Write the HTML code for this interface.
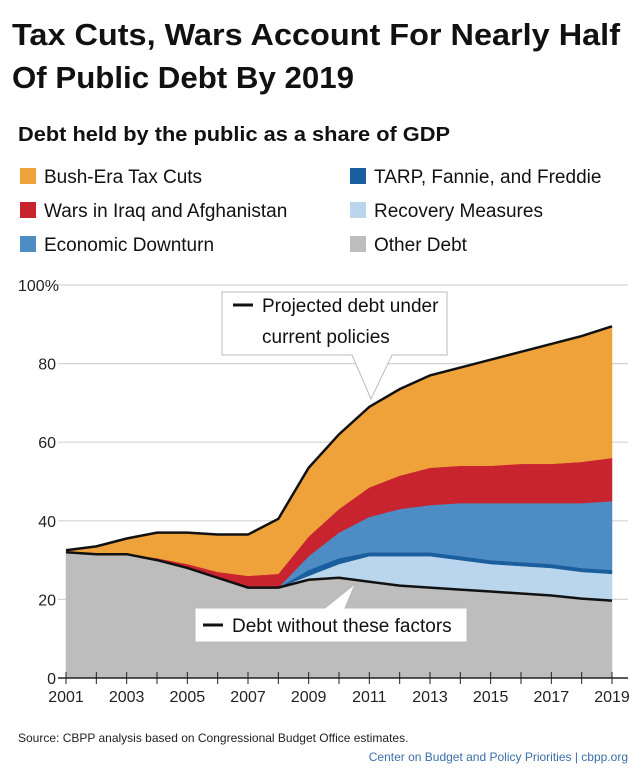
<!DOCTYPE html>
<html><head><meta charset="utf-8"><style>
html,body{margin:0;padding:0;background:#fff}
svg{display:block;font-family:"Liberation Sans",sans-serif}
</style></head><body>
<svg id="chart" width="640" height="769" viewBox="0 0 640 769">
<rect width="640" height="769" fill="#fff"/>
<text x="12" y="45" font-size="31" font-weight="bold" fill="#111" textLength="608" lengthAdjust="spacingAndGlyphs">Tax Cuts, Wars Account For Nearly Half</text>
<text x="12" y="88" font-size="31" font-weight="bold" fill="#111" textLength="342" lengthAdjust="spacingAndGlyphs">Of Public Debt By 2019</text>
<text x="18" y="141" font-size="20" font-weight="bold" fill="#111" textLength="432" lengthAdjust="spacingAndGlyphs">Debt held by the public as a share of GDP</text>
<g id="legend"></g>
<g id="grid"></g>
<g id="areas"></g>
<g id="axes"></g>
<g id="notes"></g>
<text x="18" y="742" font-size="12" fill="#222">Source:  CBPP analysis based on Congressional Budget Office estimates.</text>
<text x="628" y="761" font-size="12" fill="#3a6fa8" text-anchor="end">Center on Budget and Policy Priorities | cbpp.org</text>
</svg>
<script>
const years=[2001,2002,2003,2004,2005,2006,2007,2008,2009,2010,2011,2012,2013,2014,2015,2016,2017,2018,2019];
const otherDebt=[32,31.5,31.5,30,28,25.5,23,23,25,25.5,24.5,23.5,23,22.5,22,21.5,21,20.2,19.7];
const recovery=[0,0,0,0,0,0,0,0,1,3.5,6.5,7.5,8,7.5,7,7,7,6.8,6.8];
const tarp=[0,0,0,0,0,0,0,0,1.5,1.5,1,1,1,1,1,1,1,1,1];
const downturn=[0,0,0,0,0,0,0,0,3.5,6.5,9,11,12,13.5,14.5,15,15.5,16.5,17.5];
const wars=[0,0,0,0.5,1,1.5,3,3.5,5,6,7.5,8.5,9.5,9.5,9.5,10,10,10.5,11];
const taxCuts=[0.5,2,4,6.5,8,9.5,10.5,14,17.5,19,20.5,22,23.5,25,27,28.5,30.5,32,33.5];
const yTicks=[0,20,40,60,80,100];
const xLabels=[2001,2003,2005,2007,2009,2011,2013,2015,2017,2019];
const NS="http://www.w3.org/2000/svg";
const X=y=>66+(y-2001)*(612-66)/18;
const Y=v=>678-v*(678-285)/100;
function mk(tag,attrs,parent){const e=document.createElementNS(NS,tag);for(const k in attrs)e.setAttribute(k,attrs[k]);parent.appendChild(e);return e;}
const grid=document.getElementById('grid'),areas=document.getElementById('areas'),axes=document.getElementById('axes'),notes=document.getElementById('notes'),legend=document.getElementById('legend');
yTicks.forEach(t=>{
  if(t>0){const l=mk('line',{x1:58,x2:628,y1:Y(t),y2:Y(t),stroke:'#d4d4d4','stroke-width':1.2},grid);
  
  }
  const tx=mk('text',{x:t===100?18:56,y:Y(t)+6,'font-size':16,fill:'#222','text-anchor':t===100?'start':'end'},axes);
  tx.textContent=t===100?'100%':String(t);
  
  
});
const series=[['other-debt',otherDebt,'#bdbdbd'],['recovery-measures',recovery,'#b9d6ec'],['tarp',tarp,'#1b5e9e'],['economic-downturn',downturn,'#4d8dc4'],['wars',wars,'#c8242f'],['tax-cuts',taxCuts,'#f0a23a']];
let base=years.map(()=>0);
const tops=[];
series.forEach(([name,vals,col])=>{
  const top=base.map((b,i)=>b+vals[i]);
  let d='M'+years.map((yr,i)=>X(yr)+','+Y(top[i])).join(' L');
  for(let i=years.length-1;i>=0;i--)d+=' L'+X(years[i])+','+Y(base[i]);
  const p=mk('path',{d:d+'Z',fill:col,stroke:col,'stroke-width':0.5},areas);
  
  
  tops.push(top);base=top;
});
const lineOf=arr=>'M'+years.map((yr,i)=>X(yr)+','+Y(arr[i])).join(' L');
const l1=mk('path',{d:lineOf(tops[tops.length-1]),fill:'none',stroke:'#111','stroke-width':2.5},areas);


const l2=mk('path',{d:lineOf(otherDebt),fill:'none',stroke:'#111','stroke-width':2.5},areas);


const ax=mk('line',{x1:58,x2:628,y1:678,y2:678,stroke:'#222','stroke-width':1.5},axes);


years.forEach(yr=>{
  const tk=mk('line',{x1:X(yr),x2:X(yr),y1:672,y2:684,stroke:'#222','stroke-width':1},axes);
  
  
});
xLabels.forEach(yr=>{
  const t=mk('text',{x:X(yr),y:702,'font-size':16,fill:'#222','text-anchor':'middle'},axes);
  t.textContent=String(yr);
  
  
});
// annotations
const b1=mk('path',{d:'M222,292 H447 V355 H392 L371,399 L352,355 H222 Z',fill:'#fff',stroke:'#bbb','stroke-width':1},notes);


const m1=mk('line',{x1:233,x2:253,y1:305,y2:305,stroke:'#111','stroke-width':3},notes);


const t1=mk('text',{x:262,y:312,'font-size':19,fill:'#111'},notes);t1.textContent='Projected debt under';


const t2=mk('text',{x:262,y:343,'font-size':19,fill:'#111'},notes);t2.textContent='current policies';


const b2=mk('path',{d:'M195,608 H325 L355,584 L345,608 H467 V642 H195 Z',fill:'#fff',stroke:'#bbb','stroke-width':1},notes);


const m2=mk('line',{x1:203,x2:223,y1:625,y2:625,stroke:'#111','stroke-width':3},notes);


const t3=mk('text',{x:232,y:632,'font-size':19,fill:'#111'},notes);t3.textContent='Debt without these factors';


// legend
const legItems=[['Bush-Era Tax Cuts','#f0a23a',20,176],['Wars in Iraq and Afghanistan','#c8242f',20,210],['Economic Downturn','#4d8dc4',20,244],['TARP, Fannie, and Freddie','#1b5e9e',350,176],['Recovery Measures','#b9d6ec',350,210],['Other Debt','#bdbdbd',350,244]];
legItems.forEach(([label,col,x,y])=>{
  const r=mk('rect',{x:x,y:y-8,width:16,height:16,fill:col},legend);
  
  
  const t=mk('text',{x:x+24,y:y+7,'font-size':19,fill:'#111'},legend);
  t.textContent=label;
  
  
});
</script>
</body></html>
